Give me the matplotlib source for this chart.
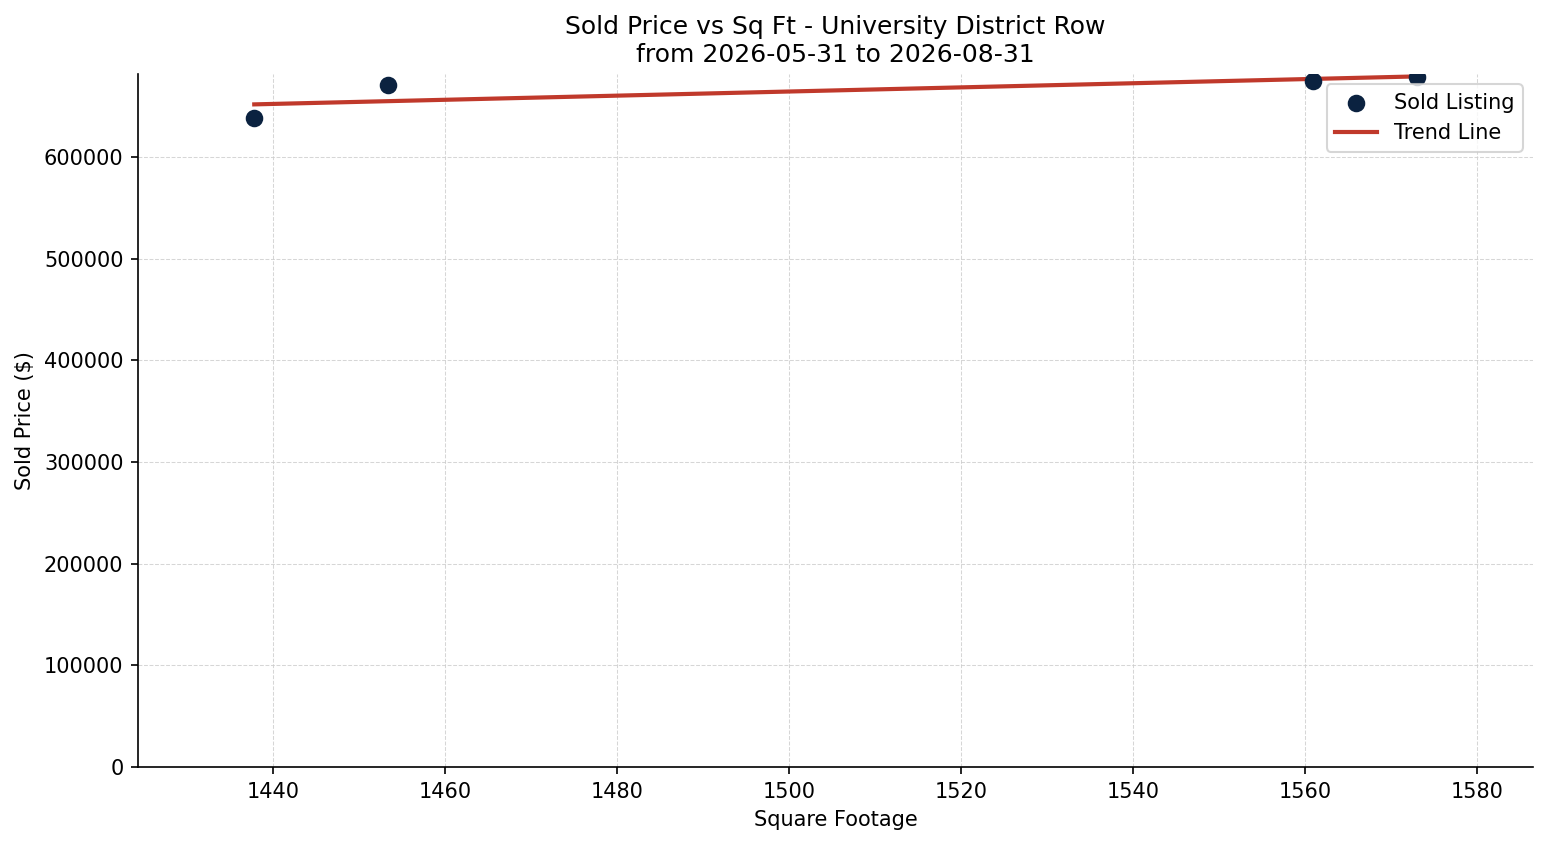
import numpy as np
import matplotlib
matplotlib.use("Agg")
import matplotlib.pyplot as plt

# sold listings
sqft = [1437.8, 1453.4, 1560.9, 1573.0]
price = [638000, 670800, 675000, 679200]

title = "Sold Price vs Sq Ft - University District Row\nfrom 2026-05-31 to 2026-08-31"

def plotSoldPrice():
    fig, ax = plt.subplots(figsize=(1547 / 150, 845 / 150), dpi=150)

    ax.scatter(sqft, price, s=55, color="#0b2240", label="Sold Listing", zorder=3)

    # linear trend over the sold listings
    slope, intercept = np.polyfit(sqft, price, 1)
    xs = np.array([min(sqft), max(sqft)])
    ax.plot(xs, slope * xs + intercept, color="#c0392b", linewidth=2, label="Trend Line", zorder=2)

    ax.margins(x=0.1)
    ax.set_ylim(0, 681700)

    ax.set_title(title, fontsize=12)
    ax.set_xlabel("Square Footage", fontsize=10)
    ax.set_ylabel("Sold Price ($)", fontsize=10)
    ax.tick_params(labelsize=10)
    ax.grid(True, linestyle="--", linewidth=0.5, color="#cccccc", alpha=0.8)
    ax.spines["top"].set_visible(False)
    ax.spines["right"].set_visible(False)
    ax.legend(loc="upper right", fontsize=10)

    fig.subplots_adjust(left=138 / 1547, right=1533 / 1547, top=1 - 74 / 845, bottom=1 - 767 / 845)
    fig.savefig("out.png", dpi=150)

if __name__ == "__main__":
    plotSoldPrice()
